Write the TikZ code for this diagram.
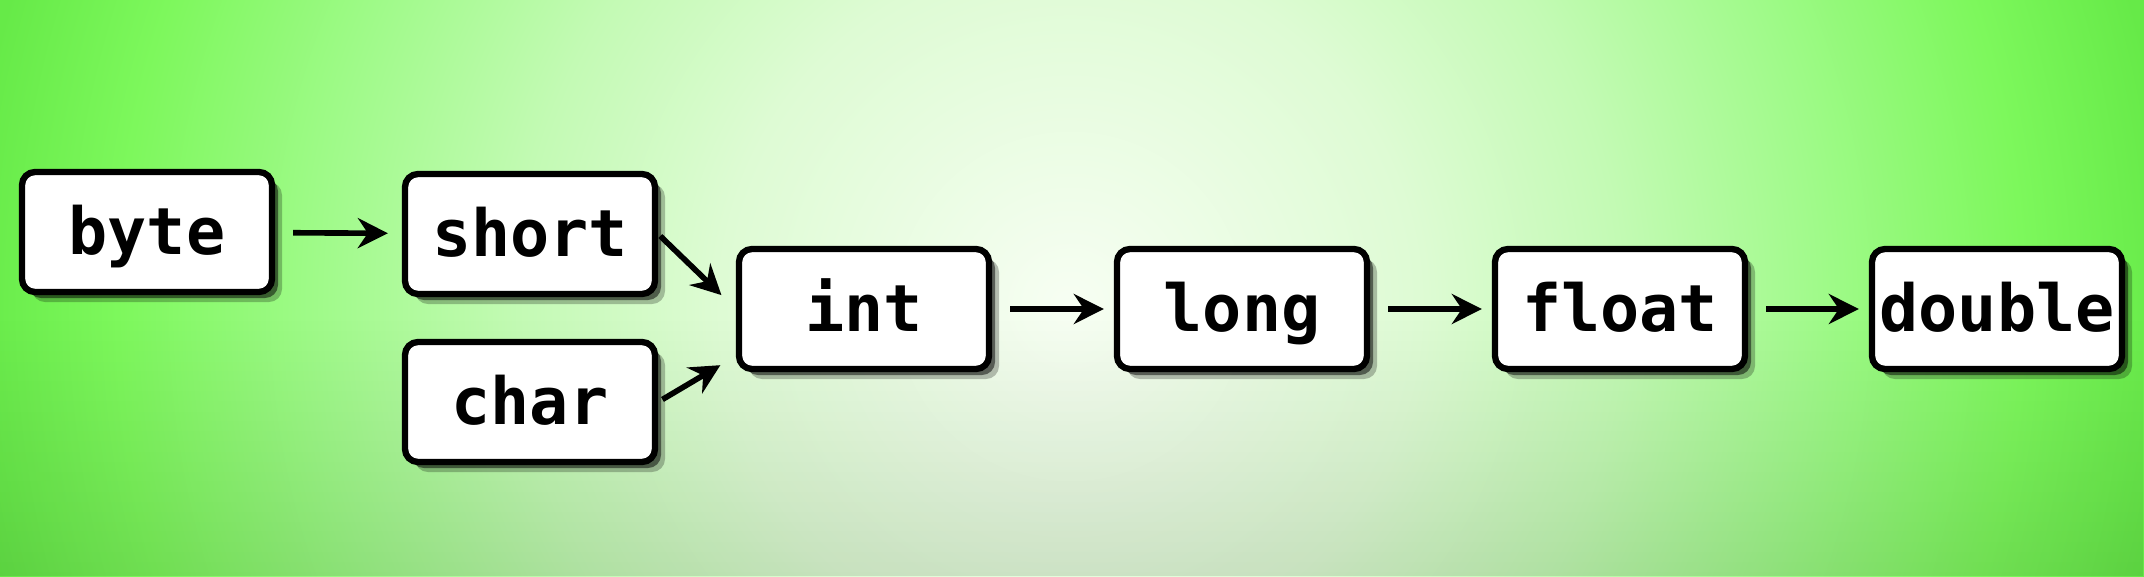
\documentclass[tikz,border=0pt]{standalone}
\usepackage{fontspec}
\setmonofont{DejaVu Sans Mono}
\usepackage{tikz}
\usetikzlibrary{
    arrows.meta,
    shadows,
    fadings
}

% Background glow
\definecolor{glowcore}{RGB}{247,254,243}
\definecolor{glowpale}{RGB}{222,251,212}
\definecolor{glowmid}{RGB}{195,250,180}
\definecolor{glowouter}{RGB}{160,250,138}
\definecolor{glowrim}{RGB}{125,248,92}
\definecolor{bggreen}{RGB}{102,234,72}
\pgfdeclareradialshading{bgglow}{\pgfpoint{0bp}{0bp}}{%
    color(0bp)=(glowcore); color(7.6bp)=(glowpale);
    color(12bp)=(glowmid); color(16.3bp)=(glowouter);
    color(20.7bp)=(glowrim); color(24bp)=(bggreen);
    color(50bp)=(bggreen)}

\begin{document}
\begin{tikzpicture}[scale=1,
    typebox/.style={draw, line width=1.8pt, rounded corners=0.13cm, fill=white,
        minimum width=2.5cm, minimum height=1.2cm, inner sep=0pt,
        text height=15pt, text depth=2pt,
        font=\ttfamily\bfseries\fontsize{18.5}{20}\selectfont,
        drop shadow={shadow xshift=0.1cm, shadow yshift=-0.1cm,
            opacity=0.25, fill=black},
        drop shadow={shadow xshift=0.06cm, shadow yshift=-0.06cm,
            opacity=0.5, fill=black}},
    widen/.style={-{Stealth[length=0.3cm, width=0.3cm, inset=0.1cm]},
        line width=1.6pt}
]

\useasboundingbox (0,0) rectangle (21.44,5.76);

% Background
\begin{scope}
\clip (0,0) rectangle (21.44,5.76);
\shade[shading=bgglow] (10.7,2.7) circle (11.5);
\fill[black, opacity=0.1, path fading=north] (0,0) rectangle (21.44,2.6);
\end{scope}

% Types
\node[typebox] (byte) at (1.47,3.44) {byte};
\node[typebox] (short) at (5.30,3.42) {short};
\node[typebox] (char) at (5.30,1.74) {char};
\node[typebox] (int) at (8.64,2.67) {int};
\node[typebox] (long) at (12.42,2.67) {long};
\node[typebox] (float) at (16.20,2.67) {float};
\node[typebox] (double) at (19.97,2.67) {double};

% Widening conversions
\draw[widen, shorten <=0.18cm, shorten >=0.14cm] (byte) -- (short);
\draw[widen, shorten <=0.03cm, shorten >=0.2cm] (short.east) -- (int.west);
\draw[widen, shorten <=0.05cm, shorten >=0.18cm] (char.east) -- ([yshift=-0.47cm]int.west);
\draw[widen, shorten <=0.18cm, shorten >=0.1cm] (int) -- (long);
\draw[widen, shorten <=0.18cm, shorten >=0.1cm] (long) -- (float);
\draw[widen, shorten <=0.18cm, shorten >=0.1cm] (float) -- (double);

\end{tikzpicture}
\end{document}
